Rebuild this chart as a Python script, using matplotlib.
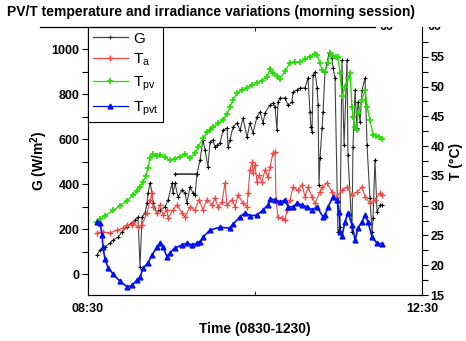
import matplotlib
matplotlib.use("Agg")
import numpy as np
import matplotlib.pyplot as plt
from matplotlib.lines import Line2D
from matplotlib.transforms import Bbox

plt.rcParams['font.family'] = ['Liberation Sans', 'DejaVu Sans']

# minutes after 08:30
t_G = [6.5, 8.6, 12.2, 15.8, 18.0, 21.6, 24.4, 28.0, 31.6, 33.8, 35.9, 37.4, 38.8, 41.0, 42.4, 43.1,
       44.6, 46.0, 46.7, 49.6, 51.7, 55.3, 57.5, 60.4, 61.1, 62.5, 64.7, 67.5, 69.7, 71.1, 73.3, 75.5,
       76.9, 78.3, 62.5, 78.3, 80.5, 82.6, 84.1, 86.2, 87.7, 89.8, 91.3, 92.7, 94.9, 97.0, 99.9, 100.6,
       102.0, 104.2, 107.1, 109.2, 111.4, 114.3, 116.4, 118.6, 121.4, 123.6, 125.8, 127.2, 130.8, 132.9,
       134.4, 135.8, 136.5, 138.0, 141.6, 143.7, 146.6, 147.3, 150.2, 152.3, 155.9, 158.1, 159.5, 160.2,
       161.0, 161.7, 163.1, 164.6, 165.3, 166.0, 166.7, 168.2, 168.9, 170.3, 171.7, 173.2, 175.3, 176.1,
       177.5, 179.6, 181.1, 182.5, 184.0, 186.1, 186.8, 189.7, 190.4, 191.9, 193.3, 194.0, 195.5, 196.9,
       199.1, 200.5, 202.6, 204.1, 204.8, 206.2, 207.7, 209.8, 211.3]
G = [84, 107, 120, 138, 151, 164, 187, 209, 227, 240, 253, 31, 253, 271, 316, 360,
     404, 360, 316, 271, 284, 298, 329, 404, 360, 404, 342, 373, 360, 316, 387, 360,
     351, 444, 444, 444, 507, 596, 551, 476, 587, 596, 564, 573, 582, 640, 649, 564,
     596, 653, 671, 640, 693, 609, 671, 627, 698, 720, 671, 716, 751, 760,
     742, 640, 764, 782, 782, 751, 764, 809, 818, 827, 827, 871, 720, 653,
     631, 884, 898, 827, 751, 396, 516, 649, 720, 898, 938, 982, 960, 916,
     871, 187, 209, 951, 573, 951, 529, 187, 564, 818, 649, 764, 676, 818,
     871, 573, 338, 187, 249, 507, 276, 307, 307]

t_Ta = [6.5, 10.8, 15.8, 20.8, 25.2, 28.0, 31.6, 32.3, 35.9, 38.8, 42.4, 44.6, 46.0, 46.7, 49.6, 51.7,
        53.9, 56.8, 57.5, 61.1, 64.0, 67.5, 69.7, 73.3, 76.9, 79.8, 82.6, 85.5, 89.1, 91.3, 93.4, 96.3,
        98.4, 99.9, 103.5, 105.6, 107.8, 111.4, 114.3, 115.0, 116.4, 117.9, 118.6, 120.0, 121.4, 122.9,
        125.0, 127.2, 129.3, 130.8, 132.9, 134.4, 135.1, 136.5, 139.4, 141.6, 143.0, 145.2, 147.3, 150.9,
        153.8, 155.9, 158.1, 161.0, 163.1, 166.7, 168.2, 171.7, 175.3, 178.9, 182.5, 186.1, 189.7, 193.3,
        196.9, 199.1, 202.6, 206.2, 209.8, 211.3]
Ta = [25.4, 25.6, 25.4, 25.9, 26.2, 26.8, 26.8, 27.3, 26.4, 26.8, 28.8, 31.0, 32.1, 29.8, 28.8, 30.1,
      28.4, 29.3, 27.9, 29.3, 30.1, 28.8, 28.1, 29.8, 29.3, 31.0, 29.3, 31.0, 30.1, 31.3, 29.8, 30.6,
      33.8, 30.1, 31.0, 29.8, 31.8, 30.4, 29.8, 32.1, 36.0, 37.3, 35.5, 36.8, 34.0, 35.1,
      34.0, 36.0, 34.8, 36.5, 38.8, 39.0, 31.0, 28.1, 27.9, 27.6, 29.3, 31.0, 33.1, 32.6,
      33.5, 31.5, 33.1, 31.5, 30.4, 32.3, 33.1, 33.8, 32.3, 31.5, 32.6, 33.1, 31.8, 32.3,
      33.1, 31.5, 30.4, 31.0, 32.1, 31.8]

t_Tpv = [6.5, 8.6, 12.2, 18.0, 23.0, 28.0, 32.3, 35.2, 37.4, 39.5, 41.7, 43.1, 44.6, 46.7, 49.6, 51.7,
         55.3, 58.9, 62.5, 66.1, 69.7, 73.3, 76.9, 79.0, 82.6, 85.5, 87.7, 89.8, 93.4, 97.0, 99.9, 102.0,
         104.2, 107.1, 110.7, 114.3, 117.9, 121.4, 125.0, 128.6, 130.8, 132.9, 135.8, 138.0, 141.6, 145.2,
         148.8, 152.3, 155.9, 159.5, 163.1, 164.6, 166.7, 168.2, 170.3, 172.5, 173.9, 176.1, 178.2, 179.6,
         181.1, 182.5, 184.7, 186.8, 188.3, 189.7, 190.4, 191.9, 193.3, 194.0, 196.9, 199.1, 200.5, 202.6,
         204.8, 206.9, 209.1, 211.3]
Tpv = [27.3, 27.7, 28.3, 29.2, 30.0, 30.8, 31.8, 32.4, 33.2, 33.9, 35.0, 36.3, 38.0, 38.6, 38.4, 38.5,
       38.1, 37.6, 37.9, 38.2, 38.6, 38.0, 38.8, 39.8, 41.3, 42.3, 42.7, 43.2, 43.8, 44.4, 45.4, 46.6,
       47.8, 48.9, 49.4, 49.8, 50.2, 50.6, 51.0, 51.6, 52.9, 52.2, 51.8, 51.3, 52.6, 54.0,
       54.1, 54.1, 54.6, 55.0, 55.5, 55.3, 54.0, 52.8, 52.4, 54.0, 55.6, 55.2, 55.0, 55.0,
       52.2, 48.4, 49.9, 51.4, 52.2, 46.6, 44.9, 43.2, 42.7, 45.6, 47.8, 49.4, 46.6, 44.4,
       41.9, 41.7, 41.5, 41.2]

t_Tpvt = [6.5, 8.6, 10.1, 10.8, 12.2, 14.4, 18.0, 23.0, 28.0, 31.6, 35.2, 37.4, 39.5, 43.1, 46.0, 49.6,
          51.7, 53.9, 56.8, 58.9, 62.5, 67.5, 71.1, 74.7, 78.3, 80.5, 82.6, 87.7, 94.9, 102.0, 104.2,
          109.2, 112.8, 116.4, 121.4, 125.8, 129.3, 130.8, 134.4, 138.0, 141.6, 143.7, 147.3, 150.2,
          153.8, 157.4, 161.0, 164.6, 168.9, 170.3, 172.5, 176.1, 178.9, 180.4, 181.1, 182.5, 184.7,
          186.8, 189.7, 191.9, 194.0, 196.9, 199.1, 201.2, 204.1, 207.7, 211.3]
Tpvt = [27.3, 27.1, 25.0, 23.0, 21.0, 19.6, 18.5, 17.3, 16.4, 16.6, 17.5, 18.0, 19.5, 20.4, 21.7, 23.1,
        23.7, 23.1, 21.4, 22.1, 22.9, 23.4, 23.7, 23.4, 23.7, 23.9, 24.7, 25.9, 26.4, 26.2, 26.9,
        28.1, 28.8, 28.3, 28.4, 29.3, 30.1, 31.1, 31.0, 30.6, 31.0, 29.8, 29.8, 30.4,
        30.1, 29.8, 29.3, 29.8, 28.1, 28.4, 29.8, 31.5, 31.0, 29.0, 25.6, 24.9, 27.3,
        28.8, 26.8, 24.2, 26.2, 27.3, 28.4, 27.3, 24.7, 23.7, 23.6]

fig = plt.figure(figsize=(4.66, 3.41), dpi=100)
ax = fig.add_axes([88/466, 46/341, 334/466, 268/341])
ax2 = ax.twinx()

bold = dict(fontweight='bold')

lG, = ax.plot(t_G, G, color='#454545', lw=0.8, marker='+', ms=3.5, mew=0.8, mec='black', label='G')
lTa, = ax2.plot(t_Ta, Ta, color='#f04848', lw=0.8, marker='+', ms=4, mew=1, label=r'T$_\mathregular{a}$')
lTpv, = ax2.plot(t_Tpv, Tpv, color='#22dd00', lw=1.0, marker='+', ms=4, mew=1.2, label=r'T$_\mathregular{pv}$')
lTpvt, = ax2.plot(t_Tpvt, Tpvt, color='#0010f0', lw=1.2, marker='^', ms=3.5, label=r'T$_\mathregular{pvt}$')

ax.set_xlim(0, 240)
ax.set_ylim(-93, 1098)
ax2.set_ylim(15, 60)

ax.set_xticks([0, 240])
ax.set_xticklabels(['08:30', '12:30'], fontsize=9, **bold)
ax.set_xticks([120], minor=True)
ax.tick_params(axis='x', which='major', length=0, pad=6)
ax.tick_params(axis='x', which='minor', direction='in', length=3, top=True)

ax.set_yticks(np.arange(0, 1001, 200))
ax.set_yticklabels([str(v) for v in range(0, 1001, 200)], fontsize=9, **bold)
ax.set_yticks(np.arange(-0, 1100, 100), minor=True)
ax.tick_params(axis='y', which='both', direction='out', length=4, width=0.8, pad=2)

ax2.set_yticks(np.arange(15, 56, 5))
ax2.set_yticklabels([str(v) for v in range(15, 56, 5)], fontsize=9, **bold)
ax2.set_yticks(np.arange(15, 60, 2.5), minor=True)
ax2.tick_params(axis='y', which='both', direction='out', length=4, width=0.8, pad=2)

for a in (ax, ax2):
    a.spines['top'].set_visible(False)
ax.spines['right'].set_visible(False)

ax.set_xlabel('Time (0830-1230)', fontsize=10, labelpad=5, **bold)
ax.set_ylabel('G (W/m$^\\mathregular{2}$)', fontsize=10, labelpad=1, **bold)
ax2.set_ylabel('T (\u00b0C)', fontsize=10, labelpad=3, **bold)

# odd top frame line and clipped "60" labels
ytop = 314 / 341
fig.add_artist(Line2D([40/466, 375/466], [ytop, ytop], color='black', lw=0.9))
clip = Bbox.from_extents(0, 0, 466, 314)
for xx in (387, 434):
    tx = fig.text(xx/466, ytop, '60', fontsize=9, ha='center', va='center', **bold)
    tx.set_clip_box(clip)
    tx.set_clip_on(True)

fig.text(7/466, 1 - 12/341, 'PV/T temperature and irradiance variations (morning session)',
         fontsize=10, va='center', ha='left', **bold)

leg = ax2.legend(handles=[lG, lTa, lTpv, lTpvt], loc='upper left', bbox_to_anchor=(0, 1),
                 borderaxespad=0, fontsize=11, frameon=True, fancybox=False, framealpha=1,
                 edgecolor='black', handlelength=2.3, handletextpad=0.35, borderpad=0.3,
                 labelspacing=0.4)
leg.get_frame().set_linewidth(0.8)
for h in leg.legend_handles:
    h.set_linewidth(0.9)

fig.savefig('out.png', dpi=100)
